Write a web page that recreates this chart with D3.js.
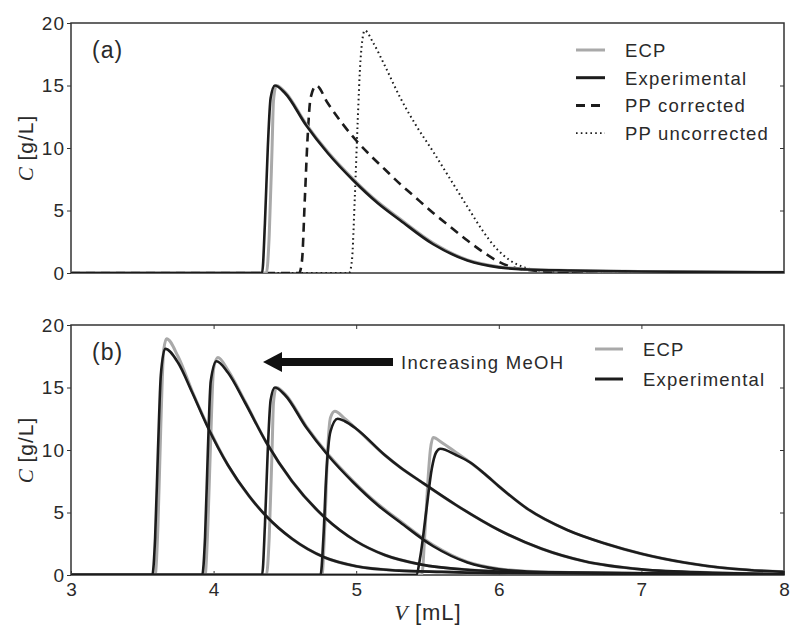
<!DOCTYPE html>
<html>
<head>
<meta charset="utf-8">
<script src="https://cdn.jsdelivr.net/npm/d3@7"></script>
<style>
  body { margin: 0; background: #fff; }
  svg text { font-family: "Liberation Sans", Arial, sans-serif; fill: #2a2a2a; }
</style>
</head>
<body>
<script>
// axes
var vTicks = [3, 4, 5, 6, 7, 8];
var cTicks = [0, 5, 10, 15, 20];

// panel (a)
var aEcpV = [3, 4.37, 4.39, 4.41, 4.42, 4.44, 4.5, 4.65, 4.8, 4.98, 5.15, 5.31, 5.54, 5.78, 6.0, 6.2, 6.5, 7, 8];
var aEcpC = [0, 0, 3, 10, 13.8, 15, 14.5, 11.9, 9.7, 7.5, 5.7, 4.3, 2.4, 1.05, 0.5, 0.3, 0.2, 0.12, 0.05];
var aExpV = [3, 4.34, 4.36, 4.38, 4.40, 4.43, 4.5, 4.65, 4.8, 4.98, 5.15, 5.31, 5.54, 5.78, 6.0, 6.2, 6.5, 7, 8];
var aExpC = [0, 0, 4, 10, 14, 15, 14.4, 11.8, 9.6, 7.4, 5.6, 4.2, 2.3, 1.0, 0.45, 0.28, 0.2, 0.12, 0.05];
var aCorrV = [3, 4.6, 4.62, 4.64, 4.66, 4.68, 4.72, 4.8, 4.9, 5.0, 5.1, 5.2, 5.31, 5.4, 5.54, 5.66, 5.78, 5.9, 6.0, 6.1, 6.2, 6.4, 8];
var aCorrC = [0, 0, 1, 6, 11, 14, 15, 13.6, 12.0, 10.6, 9.4, 8.3, 7.1, 6.2, 4.8, 3.7, 2.6, 1.6, 0.9, 0.45, 0.25, 0.1, 0];
var aUncV = [3, 4.95, 4.97, 4.99, 5.01, 5.03, 5.06, 5.12, 5.2, 5.31, 5.42, 5.54, 5.66, 5.78, 5.88, 5.98, 6.08, 6.18, 6.3, 6.6, 8];
var aUncC = [0, 0, 1, 6, 12, 17, 19.4, 18.4, 16.6, 14.0, 11.8, 9.7, 7.5, 5.3, 3.5, 2.0, 1.0, 0.45, 0.18, 0.05, 0];

// panel (b): five runs, ECP and experimental
var b1EcpV = [3, 3.59, 3.61, 3.63, 3.65, 3.67, 3.75, 3.85, 3.96, 4.1, 4.25, 4.37, 4.55, 4.78, 5.0, 5.3, 5.6, 6, 8];
var b1EcpC = [0, 0, 4, 12, 18, 18.9, 17.5, 14.7, 11.9, 8.8, 6.3, 4.7, 2.9, 1.4, 0.7, 0.35, 0.25, 0.15, 0.05];
var b1ExpV = [3, 3.57, 3.59, 3.61, 3.63, 3.66, 3.75, 3.85, 3.96, 4.1, 4.25, 4.37, 4.55, 4.78, 5.0, 5.3, 5.6, 6, 8];
var b1ExpC = [0, 0, 3, 10, 16, 18.1, 17.0, 14.6, 11.8, 8.8, 6.3, 4.7, 2.9, 1.4, 0.7, 0.35, 0.25, 0.15, 0.05];

var b2EcpV = [3, 3.94, 3.96, 3.98, 4.0, 4.03, 4.1, 4.22, 4.37, 4.55, 4.78, 5.0, 5.2, 5.45, 5.8, 6.2, 8];
var b2EcpC = [0, 0, 4, 11, 16.5, 17.4, 16.4, 13.9, 10.6, 7.5, 4.6, 2.7, 1.6, 0.85, 0.4, 0.22, 0.05];
var b2ExpV = [3, 3.92, 3.94, 3.96, 3.98, 4.02, 4.1, 4.22, 4.37, 4.55, 4.78, 5.0, 5.2, 5.45, 5.8, 6.2, 8];
var b2ExpC = [0, 0, 3, 10, 15.5, 17.1, 16.2, 13.8, 10.6, 7.5, 4.6, 2.7, 1.6, 0.85, 0.4, 0.22, 0.05];

var b3EcpV = aEcpV, b3EcpC = aEcpC;
var b3ExpV = aExpV, b3ExpC = aExpC;

var b4EcpV = [3, 4.76, 4.78, 4.80, 4.82, 4.85, 4.92, 5.0, 5.2, 5.31, 5.45, 5.7, 6.0, 6.3, 6.6, 7.0, 7.5, 8];
var b4EcpC = [0, 0, 4, 10, 12.6, 13.1, 12.5, 11.7, 9.6, 8.6, 7.5, 5.6, 3.6, 2.1, 1.1, 0.45, 0.18, 0.08];
var b4ExpV = [3, 4.75, 4.77, 4.79, 4.82, 4.87, 4.92, 5.0, 5.2, 5.31, 5.45, 5.7, 6.0, 6.3, 6.6, 7.0, 7.5, 8];
var b4ExpC = [0, 0, 3, 8, 11.5, 12.5, 12.3, 11.7, 9.6, 8.6, 7.5, 5.6, 3.6, 2.1, 1.1, 0.45, 0.18, 0.08];

var b5EcpV = [3, 5.46, 5.48, 5.50, 5.52, 5.54, 5.6, 5.7, 5.8, 5.9, 6.0, 6.2, 6.48, 6.75, 7.0, 7.3, 7.64, 8];
var b5EcpC = [0, 0, 3, 7, 10, 11, 10.6, 9.8, 9.0, 8.1, 7.1, 5.3, 3.6, 2.5, 1.7, 1.0, 0.5, 0.25];
var b5ExpV = [3, 5.42, 5.45, 5.49, 5.53, 5.56, 5.59, 5.7, 5.8, 5.9, 6.0, 6.2, 6.48, 6.75, 7.0, 7.3, 7.64, 8];
var b5ExpC = [0, 0, 1.5, 5, 8.5, 9.8, 10.1, 9.6, 9.0, 8.1, 7.1, 5.3, 3.6, 2.5, 1.7, 1.0, 0.5, 0.25];

var legendA = ["ECP", "Experimental", "PP corrected", "PP uncorrected"];
var legendB = ["ECP", "Experimental"];

var W = 790, H = 628;
var svg = d3.select("body").append("svg").attr("width", W).attr("height", H);

var x = d3.scaleLinear().domain([3, 8]).range([71, 784]);
var yA = d3.scaleLinear().domain([0, 20]).range([273, 23]);
var yB = d3.scaleLinear().domain([0, 20]).range([575, 325]);

var grey = "#a9a9a9", black = "#1c1c1c";

function series(V, C) { return V.map(function(v, i) { return [v, C[i]]; }); }

function drawPanel(y, showX, tag) {
  var g = svg.append("g");
  var clipId = "clip" + tag;
  svg.append("clipPath").attr("id", clipId).append("rect")
    .attr("x", x(3)).attr("y", y(20)).attr("width", x(8) - x(3)).attr("height", y(0) - y(20));

  // left ticks (outside) and labels
  g.append("g").attr("transform", "translate(" + x(3) + ",0)")
    .call(d3.axisLeft(y).tickValues(cTicks).tickSize(4).tickPadding(2).tickFormat(d3.format("d")))
    .call(function(s) {
      s.select(".domain").remove();
      s.selectAll("line").attr("stroke", "#333");
      s.selectAll("text").attr("font-size", 19).attr("fill", "#2a2a2a")
        .attr("font-family", "Liberation Sans").style("letter-spacing", "1px");
    });
  // right ticks inward
  g.append("g").attr("transform", "translate(" + x(8) + ",0)")
    .call(d3.axisLeft(y).tickValues([5, 10, 15]).tickSize(4).tickFormat(""))
    .call(function(s) { s.select(".domain").remove(); s.selectAll("line").attr("stroke", "#333"); });

  if (showX) {
    g.append("g").attr("transform", "translate(0," + y(0) + ")")
      .call(d3.axisBottom(x).tickValues(vTicks).tickSize(-4).tickPadding(8).tickFormat(d3.format("d")))
      .call(function(s) {
        s.select(".domain").remove();
        s.selectAll("line").attr("stroke", "#333");
        s.selectAll("text").attr("font-size", 19).attr("fill", "#2a2a2a").attr("font-family", "Liberation Sans");
      });
    g.append("g").attr("transform", "translate(0," + y(20) + ")")
      .call(d3.axisTop(x).tickValues([4, 5, 6, 7]).tickSize(-4).tickFormat(""))
      .call(function(s) { s.select(".domain").remove(); s.selectAll("line").attr("stroke", "#333"); });
  }

  // box
  g.append("rect").attr("x", x(3)).attr("y", y(20))
    .attr("width", x(8) - x(3)).attr("height", y(0) - y(20))
    .attr("fill", "none").attr("stroke", "#333").attr("stroke-width", 1.5);

  // y label
  var yl = g.append("text")
    .attr("transform", "translate(33," + ((y(0) + y(20)) / 2) + ") rotate(-90)")
    .attr("text-anchor", "middle").attr("font-size", 21);
  yl.append("tspan").text("C").attr("font-family", "Liberation Serif").attr("font-style", "italic");
  yl.append("tspan").text(" [g/L]").style("letter-spacing", "1px");

  return svg.append("g").attr("clip-path", "url(#" + clipId + ")");
}

var line = function(y) {
  return d3.line().x(function(d) { return x(d[0]); }).y(function(d) { return y(d[1]); })
    .curve(d3.curveMonotoneX);
};

// ---- panel (a)
var pa = drawPanel(yA, false, "a");
var la = line(yA);
pa.append("path").attr("d", la(series(aUncV, aUncC))).attr("fill", "none")
  .attr("stroke", black).attr("stroke-width", 2).attr("stroke-dasharray", "1.6,3.2");
pa.append("path").attr("d", la(series(aCorrV, aCorrC))).attr("fill", "none")
  .attr("stroke", black).attr("stroke-width", 2.6).attr("stroke-dasharray", "9,6");
pa.append("path").attr("d", la(series(aEcpV, aEcpC))).attr("fill", "none")
  .attr("stroke", grey).attr("stroke-width", 3);
pa.append("path").attr("d", la(series(aExpV, aExpC))).attr("fill", "none")
  .attr("stroke", black).attr("stroke-width", 2.6);

svg.append("text").attr("x", 92).attr("y", 58).attr("font-size", 23).style("letter-spacing", "1px").text("(a)");

var legA = svg.append("g");
var legStyles = [
  { stroke: grey, w: 3, dash: null },
  { stroke: black, w: 3, dash: null },
  { stroke: black, w: 3, dash: "9,6" },
  { stroke: black, w: 1.6, dash: "1.6,3.2" }
];
legendA.forEach(function(name, i) {
  var yy = 50 + i * 27.7;
  legA.append("line").attr("x1", 576).attr("x2", 605).attr("y1", yy).attr("y2", yy)
    .attr("stroke", legStyles[i].stroke).attr("stroke-width", legStyles[i].w)
    .attr("stroke-dasharray", legStyles[i].dash);
  legA.append("text").attr("x", 625).attr("y", yy + 7).attr("font-size", 18.5)
    .style("letter-spacing", "1.2px").text(name);
});

// ---- panel (b)
var pb = drawPanel(yB, true, "b");
var lb = line(yB);
var ecpB = [[b1EcpV, b1EcpC], [b2EcpV, b2EcpC], [b3EcpV, b3EcpC], [b4EcpV, b4EcpC], [b5EcpV, b5EcpC]];
var expB = [[b1ExpV, b1ExpC], [b2ExpV, b2ExpC], [b3ExpV, b3ExpC], [b4ExpV, b4ExpC], [b5ExpV, b5ExpC]];
pb.selectAll("path.ecp").data(ecpB).enter().append("path").attr("class", "ecp")
  .attr("d", function(d) { return lb(series(d[0], d[1])); })
  .attr("fill", "none").attr("stroke", grey).attr("stroke-width", 3);
pb.selectAll("path.exp").data(expB).enter().append("path").attr("class", "exp")
  .attr("d", function(d) { return lb(series(d[0], d[1])); })
  .attr("fill", "none").attr("stroke", black).attr("stroke-width", 2.6);

svg.append("text").attr("x", 92).attr("y", 360).attr("font-size", 23).style("letter-spacing", "1px").text("(b)");

// arrow
svg.append("line").attr("x1", 393).attr("x2", 280).attr("y1", 362).attr("y2", 362)
  .attr("stroke", "#111").attr("stroke-width", 8);
svg.append("path").attr("d", "M263,362 L282,352 L282,372 Z").attr("fill", "#111");
svg.append("text").attr("x", 401).attr("y", 369).attr("font-size", 18.5)
  .style("letter-spacing", "1.3px").text("Increasing MeOH");

var legB = svg.append("g");
legendB.forEach(function(name, i) {
  var yy = 349 + i * 30;
  legB.append("line").attr("x1", 595).attr("x2", 623).attr("y1", yy).attr("y2", yy)
    .attr("stroke", i === 0 ? grey : black).attr("stroke-width", 3);
  legB.append("text").attr("x", 643).attr("y", yy + 7).attr("font-size", 18.5)
    .style("letter-spacing", "1.2px").text(name);
});

// x label
var xl = svg.append("text").attr("x", 428).attr("y", 620).attr("text-anchor", "middle").attr("font-size", 22);
xl.append("tspan").text("V").attr("font-family", "Liberation Serif").attr("font-style", "italic");
xl.append("tspan").text(" [mL]").style("letter-spacing", "1px");
</script>
</body>
</html>
